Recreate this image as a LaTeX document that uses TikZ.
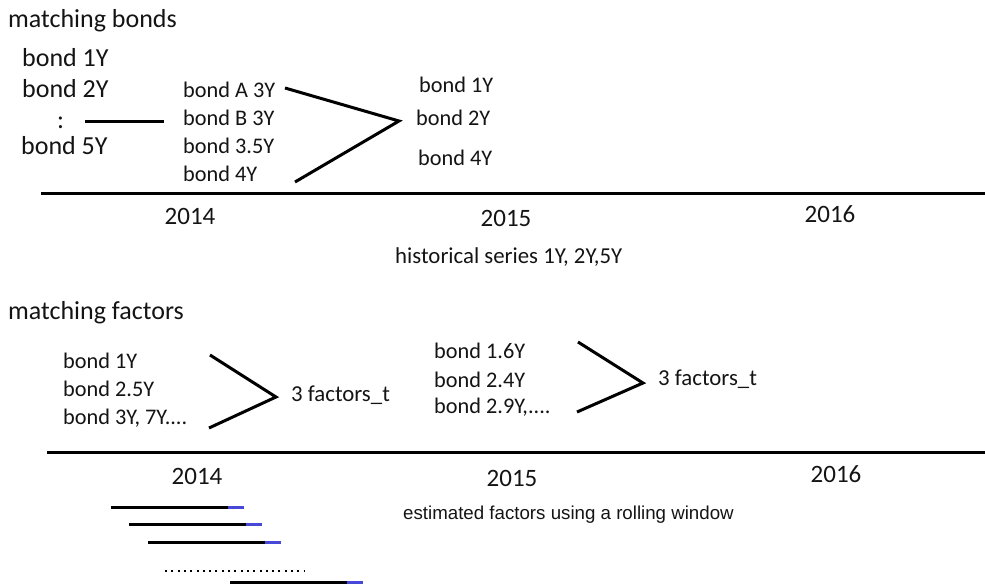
\documentclass[tikz,border=0pt]{standalone}
\usepackage{fontspec}
\setmainfont{Carlito}
\newfontfamily\arialfont{Liberation Sans}
\definecolor{windowblue}{RGB}{72,72,216}
\definecolor{inkdark}{RGB}{20,20,20}
\begin{document}
\begin{tikzpicture}[x=1pt,y=-1pt,
  lbl/.style={inner sep=0pt, anchor=base west, text=inkdark},
  head/.style={lbl, font=\fontsize{26}{30}\selectfont},
  big/.style={lbl, font=\fontsize{26}{30}\selectfont},
  mid/.style={lbl, font=\fontsize{22.3}{26}\selectfont},
  note/.style={lbl, font=\fontsize{22.8}{26}\selectfont},
  year/.style={inner sep=0pt, anchor=base, text=inkdark, font=\fontsize{25}{30}\selectfont},
  rule/.style={line width=3pt},
  link/.style={line width=3pt},
  past/.style={line width=3pt, black},
  ahead/.style={line width=3pt, windowblue},
  more/.style={line width=2pt, dash pattern=on 2pt off 4.3pt}
]
\useasboundingbox (0,0) rectangle (985,584);

% ---------------- matching bonds ----------------
\node[head] (hbonds) at (8,27) {matching bonds};

\node[big] (b1) at (22,66) {bond 1Y};
\node[big] (b2) at (22,97) {bond 2Y};
\node[big] (bdots) at (57,128) {:};
\node[big] (b5) at (21,154) {bond 5Y};

\coordinate (gapL) at (85,121);
\coordinate (gapR) at (164,121);
\draw[link] (gapL) -- (gapR);

\node[mid] (bA) at (183,97) {bond A 3Y};
\node[mid] (bB) at (183,125) {bond B 3Y};
\node[mid] (b35) at (183,153) {bond 3.5Y};
\node[mid] (b4) at (183,181) {bond 4Y};

\coordinate (vAin) at (285,88);
\coordinate (vAtip) at (399,121);
\coordinate (vAout) at (295,182);
\draw[link, line join=miter] (vAin) -- (vAtip) -- (vAout);

\node[mid] (r1) at (419,92) {bond 1Y};
\node[mid] (r2) at (416,125) {bond 2Y};
\node[mid] (r4) at (418,165) {bond 4Y};

\coordinate (axAs) at (41,193);
\coordinate (axAe) at (985,193);
\draw[rule] (axAs) -- (axAe);

\node[year] (yA14) at (190,224) {2014};
\node[year] (yA15) at (506,226) {2015};
\node[year] (yA16) at (830,222) {2016};

\node[note] (hist) at (395,263) {historical series 1Y, 2Y,5Y};

% ---------------- matching factors ----------------
\node[head] (hfactors) at (8,319) {matching factors};

\node[mid] (f1) at (63,368) {bond 1Y};
\node[mid] (f25) at (63,396) {bond 2.5Y};
\node[mid] (f3) at (63,424) {bond 3Y, 7Y....};

\coordinate (vBin) at (210,355);
\coordinate (vBtip) at (276,397);
\coordinate (vBout) at (209,428);
\draw[link, line join=miter] (vBin) -- (vBtip) -- (vBout);

\node[mid, font=\fontsize{22.8}{26}\selectfont] (fac1) at (291,401) {3 factors\_t};

\node[mid] (g16) at (434,358) {bond 1.6Y};
\node[mid] (g24) at (434,387) {bond 2.4Y};
\node[mid] (g29) at (434,413) {bond 2.9Y,....};

\coordinate (vCin) at (578,342);
\coordinate (vCtip) at (643,383);
\coordinate (vCout) at (577,412);
\draw[link, line join=miter] (vCin) -- (vCtip) -- (vCout);

\node[mid, font=\fontsize{22.8}{26}\selectfont] (fac2) at (658,385) {3 factors\_t};

\coordinate (axBs) at (47,452);
\coordinate (axBe) at (985,452);
\draw[rule] (axBs) -- (axBe);

\node[year] (yB14) at (197,484) {2014};
\node[year] (yB15) at (512,486) {2015};
\node[year] (yB16) at (836,482) {2016};

\node[lbl, font=\arialfont\fontsize{18.7}{22}\selectfont] (roll) at (403,519)
  {estimated factors using a rolling window};

% rolling estimation windows: black = fitting span, blue = step ahead
\foreach \s/\y [count=\k] in {111/507, 129/524, 148/542, 230/582} {
  \coordinate (w\k s) at (\s,\y);
  \coordinate (w\k m) at (\s+117,\y);
  \coordinate (w\k e) at (\s+133,\y);
  \draw[past] (w\k s) -- (w\k m);
  \draw[ahead] (w\k m) -- (w\k e);
}
\coordinate (dotS) at (165,571);
\coordinate (dotE) at (304,571);
\draw[more] (dotS) -- (dotE);
\end{tikzpicture}
\end{document}
